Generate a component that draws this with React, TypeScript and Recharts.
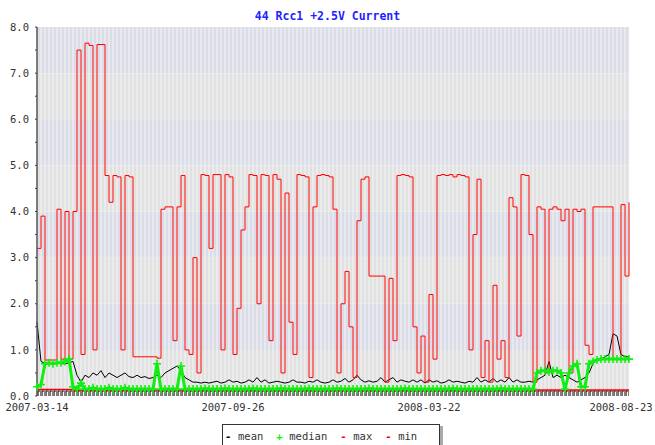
import { LineChart, Line, XAxis, YAxis, ReferenceArea, ReferenceLine } from 'recharts';

const chartTitle = '44 Rcc1 +2.5V Current';

const xLabels = ['2007-03-14', '2007-09-26', '2008-03-22', '2008-08-23'];
const xLabelIndex = [0, 49, 98, 146];

const yTicks = [0, 0.5, 1, 1.5, 2, 2.5, 3, 3.5, 4, 4.5, 5, 5.5, 6, 6.5, 7, 7.5, 8];
const yBands = [0, 1, 2, 3, 4, 5, 6, 7];

const meanValues = [
  1.6, 0.75, 0.7, 0.7, 0.7, 0.72, 0.7, 0.7, 0.72, 0.75,
  0.45, 0.3, 0.45, 0.4, 0.5, 0.45, 0.55, 0.4, 0.5, 0.45,
  0.4, 0.45, 0.5, 0.42, 0.4, 0.45, 0.4, 0.42, 0.38, 0.4,
  0.45, 0.4, 0.5, 0.55, 0.6, 0.65, 0.55, 0.4, 0.35, 0.3,
  0.3, 0.28, 0.3, 0.28, 0.3, 0.32, 0.28, 0.3, 0.35, 0.3,
  0.32, 0.28, 0.3, 0.35, 0.3, 0.4, 0.3, 0.35, 0.28, 0.3,
  0.32, 0.3, 0.28, 0.3, 0.35, 0.3, 0.3, 0.28, 0.32, 0.3,
  0.35, 0.3, 0.28, 0.3, 0.35, 0.3, 0.32, 0.38, 0.3, 0.35,
  0.45, 0.35, 0.3, 0.33, 0.3, 0.32, 0.4, 0.3, 0.35, 0.4,
  0.3, 0.35, 0.32, 0.3, 0.35, 0.3, 0.35, 0.28, 0.35, 0.3,
  0.33, 0.28, 0.3, 0.35, 0.3, 0.32, 0.3, 0.28, 0.32, 0.3,
  0.4, 0.3, 0.35, 0.3, 0.38, 0.3, 0.35, 0.3, 0.4, 0.3,
  0.35, 0.3, 0.3, 0.32, 0.3, 0.35, 0.4, 0.45, 0.75, 0.4,
  0.45, 0.4, 0.45, 0.4, 0.35, 0.3, 0.35, 0.4, 0.5, 0.7,
  0.8, 0.8, 0.85, 0.9, 1.35, 1.3, 0.9, 0.85, 0.85,
];

const medianValues = [
  0.2, 0.25, 0.7, 0.72, 0.7, 0.72, 0.72, 0.75, 0.8, 0.2,
  0.15, 0.28, 0.15, 0.15, 0.18, 0.15, 0.15, 0.15, 0.18, 0.15,
  0.15, 0.15, 0.18, 0.15, 0.15, 0.15, 0.15, 0.15, 0.15, 0.15,
  0.7, 0.15, 0.15, 0.15, 0.15, 0.15, 0.65, 0.15, 0.15, 0.15,
  0.15, 0.15, 0.16, 0.15, 0.15, 0.15, 0.15, 0.16, 0.15, 0.15,
  0.15, 0.15, 0.15, 0.15, 0.16, 0.15, 0.15, 0.15, 0.15, 0.15,
  0.15, 0.16, 0.15, 0.15, 0.15, 0.15, 0.15, 0.15, 0.16, 0.15,
  0.15, 0.15, 0.15, 0.15, 0.15, 0.16, 0.15, 0.15, 0.15, 0.15,
  0.15, 0.15, 0.15, 0.16, 0.15, 0.15, 0.15, 0.15, 0.15, 0.15,
  0.15, 0.15, 0.16, 0.15, 0.15, 0.15, 0.15, 0.15, 0.15, 0.15,
  0.15, 0.15, 0.15, 0.15, 0.16, 0.15, 0.15, 0.15, 0.15, 0.15,
  0.15, 0.15, 0.15, 0.15, 0.15, 0.15, 0.16, 0.15, 0.15, 0.15,
  0.15, 0.15, 0.15, 0.15, 0.15, 0.5, 0.55, 0.55, 0.52, 0.55,
  0.55, 0.5, 0.15, 0.5, 0.65, 0.7, 0.2, 0.2, 0.7, 0.75,
  0.78, 0.8, 0.8, 0.8, 0.8, 0.8, 0.8, 0.8, 0.8,
];

const maxValues = [
  3.2, 3.9, 0.78, 0.78, 0.78, 4.05, 0.8, 4.0, 0.8, 4.0,
  7.5, 0.9, 7.65, 7.6, 1.0, 7.62, 7.62, 4.78, 4.2, 4.78,
  4.75, 1.0, 4.78, 4.75, 0.85, 0.85, 0.85, 0.85, 0.85, 0.85,
  0.82, 4.05, 4.1, 4.1, 1.2, 4.1, 4.78, 1.0, 0.9, 3.0,
  0.5, 4.8, 4.78, 3.2, 4.8, 4.8, 1.0, 4.8, 4.75, 0.9,
  1.9, 3.6, 4.1, 4.8, 4.78, 2.0, 4.8, 4.78, 1.2, 4.8,
  4.7, 0.5, 4.4, 1.6, 0.9, 4.8, 4.78, 4.75, 0.4, 4.1,
  4.78, 4.8, 4.78, 4.75, 4.05, 0.5, 2.0, 2.7, 1.5, 0.4,
  3.8, 4.7, 4.75, 2.6, 2.6, 2.6, 2.6, 0.3, 2.55, 1.2,
  4.78, 4.8, 4.78, 4.75, 1.5, 0.5, 1.3, 0.3, 2.2, 0.8,
  4.78, 4.8, 4.78, 4.8, 4.75, 4.8, 4.78, 4.75, 1.0, 3.5,
  4.7, 0.4, 1.2, 0.3, 2.4, 0.8, 1.2, 0.4, 4.3, 4.1,
  1.3, 4.8, 4.78, 3.5, 0.3, 4.1, 4.05, 0.5, 4.05, 4.1,
  4.05, 3.8, 4.05, 0.5, 4.05, 4.0, 4.05, 1.1, 0.9, 4.1,
  4.1, 4.1, 4.1, 4.1, 0.8, 0.8, 4.15, 2.6, 4.2,
];

const minValues = [
  0.14, 0.14, 0.14, 0.14, 0.14, 0.14, 0.14, 0.14, 0.14, 0.13,
  0.13, 0.13, 0.13, 0.13, 0.13, 0.13, 0.13, 0.13, 0.13, 0.13,
  0.13, 0.13, 0.13, 0.13, 0.13, 0.13, 0.13, 0.13, 0.13, 0.13,
  0.13, 0.13, 0.13, 0.13, 0.13, 0.13, 0.13, 0.13, 0.13, 0.13,
  0.13, 0.13, 0.13, 0.13, 0.13, 0.13, 0.13, 0.13, 0.13, 0.13,
  0.13, 0.13, 0.13, 0.13, 0.13, 0.13, 0.13, 0.13, 0.13, 0.13,
  0.13, 0.13, 0.13, 0.13, 0.13, 0.13, 0.13, 0.13, 0.13, 0.13,
  0.13, 0.13, 0.13, 0.13, 0.13, 0.13, 0.13, 0.13, 0.13, 0.13,
  0.13, 0.13, 0.13, 0.13, 0.13, 0.13, 0.13, 0.13, 0.13, 0.13,
  0.13, 0.13, 0.13, 0.13, 0.13, 0.13, 0.13, 0.13, 0.13, 0.13,
  0.13, 0.13, 0.13, 0.13, 0.13, 0.13, 0.13, 0.13, 0.13, 0.13,
  0.13, 0.13, 0.13, 0.13, 0.13, 0.13, 0.13, 0.13, 0.13, 0.13,
  0.13, 0.13, 0.13, 0.13, 0.13, 0.13, 0.13, 0.13, 0.13, 0.13,
  0.13, 0.13, 0.13, 0.13, 0.13, 0.13, 0.13, 0.13, 0.13, 0.13,
  0.13, 0.13, 0.13, 0.13, 0.13, 0.13, 0.13, 0.13, 0.13,
];

const series = [
  { key: 'mean', color: '#000000', symbol: '-' },
  { key: 'median', color: '#11ee11', symbol: '+' },
  { key: 'max', color: '#ff0000', symbol: '-' },
  { key: 'min', color: '#ff0000', symbol: '-' },
];

const chartData = maxValues.map((_, i) => ({
  idx: i,
  mean: meanValues[i],
  median: medianValues[i],
  max: maxValues[i],
  min: minValues[i],
}));

const mono = '"DejaVu Sans Mono", "Liberation Mono", monospace';

function PlusDot(props: any) {
  const { cx, cy, index } = props;
  if (cx == null || cy == null) return <g key={index} />;
  return (
    <path
      key={index}
      d={`M${cx - 4},${cy}h8M${cx},${cy - 4}v8`}
      stroke="#11ee11"
      strokeWidth={1.6}
      fill="none"
    />
  );
}

export default function App() {
  return (
    <div style={{ position: 'absolute', left: 0, top: 0, width: 655, height: 445, background: '#fff', overflow: 'hidden' }}>
      <LineChart
        width={655}
        height={445}
        data={chartData}
        margin={{ top: 27, right: 26, bottom: 29, left: 0 }}
      >
        <defs>
          <pattern id="tickStrip" width="4" height="6" patternUnits="userSpaceOnUse">
            <rect x="0" y="0" width="4" height="6" fill="#ffffff" />
            <rect x="0" y="0" width="4" height="1.5" fill="#111111" />
            <rect x="0" y="0" width="2.6" height="6" fill="#111111" />
          </pattern>
        </defs>
        {yBands.map((b) => (
          <ReferenceArea
            key={`band-${b}`}
            y1={b}
            y2={b + 1}
            fill={b % 2 === 1 ? '#dadde7' : '#e1e1e1'}
            fillOpacity={1}
            stroke="none"
          />
        ))}
        {chartData.map((d) => (
          <ReferenceLine
            key={`stripe-${d.idx}`}
            x={d.idx}
            stroke="#f5f5f5"
            strokeOpacity={0.75}
            strokeWidth={1.3}
          />
        ))}
        <ReferenceArea y1={0} y2={0.12} fill="url(#tickStrip)" fillOpacity={1} stroke="none" />
        <XAxis
          dataKey="idx"
          type="number"
          domain={[0, chartData.length - 1]}
          ticks={xLabelIndex}
          tickFormatter={(v: number) => xLabels[xLabelIndex.indexOf(v)] ?? ''}
          axisLine={false}
          tickLine={false}
          height={20}
          interval={0}
          tick={{ fill: '#333', fontFamily: mono, fontSize: 10.5 }}
        />
        <YAxis
          domain={[0, 8]}
          ticks={yTicks}
          interval={0}
          width={37}
          tickSize={2}
          tickMargin={6}
          tickFormatter={(v: number) => (Number.isInteger(v) ? v.toFixed(1) : '')}
          axisLine={{ stroke: '#555', strokeWidth: 1.5 }}
          tickLine={{ stroke: '#444' }}
          tick={{ fill: '#333', fontFamily: mono, fontSize: 10.5 }}
        />
        <YAxis
          yAxisId="inner"
          domain={[0, 8]}
          ticks={yTicks}
          interval={0}
          mirror
          width={0}
          tick={false}
          axisLine={false}
          tickSize={5}
          tickLine={{ stroke: '#444' }}
        />
        <Line type="stepAfter" dataKey="min" stroke="#ff0000" strokeWidth={1.5} dot={false} isAnimationActive={false} />
        <Line dataKey="mean" stroke="#000000" strokeWidth={1} dot={false} isAnimationActive={false} />
        <Line type="stepAfter" dataKey="max" stroke="#ff0000" strokeWidth={1} dot={false} isAnimationActive={false} />
        <Line
          dataKey="median"
          stroke="#11ee11"
          strokeWidth={3}
          dot={<PlusDot />}
          isAnimationActive={false}
        />
      </LineChart>
      <div
        style={{
          position: 'absolute',
          top: 9,
          left: 0,
          width: 655,
          textAlign: 'center',
          fontFamily: mono,
          fontWeight: 'bold',
          fontSize: 11.5,
          color: '#1f1fff',
          zIndex: 2,
        }}
      >
        {chartTitle}
      </div>
      <div
        style={{
          position: 'absolute',
          left: 222,
          top: 424,
          width: 218,
          height: 26,
          border: '1px solid #333',
          boxShadow: '3px 2px 0 #aaa',
          background: '#fff',
          fontFamily: mono,
          fontSize: 10.5,
          color: '#333',
          display: 'flex',
          alignItems: 'center',
          paddingLeft: 2,
          paddingBottom: 3,
          boxSizing: 'border-box',
          whiteSpace: 'pre',
          zIndex: 2,
        }}
      >
        {series.map((s) => (
          <span key={s.key} style={{ marginRight: 13 }}>
            <span style={{ display: 'inline-block', width: 13, color: s.color, fontWeight: 'bold' }}>
              {s.symbol}
            </span>
            {s.key}
          </span>
        ))}
      </div>
    </div>
  );
}
